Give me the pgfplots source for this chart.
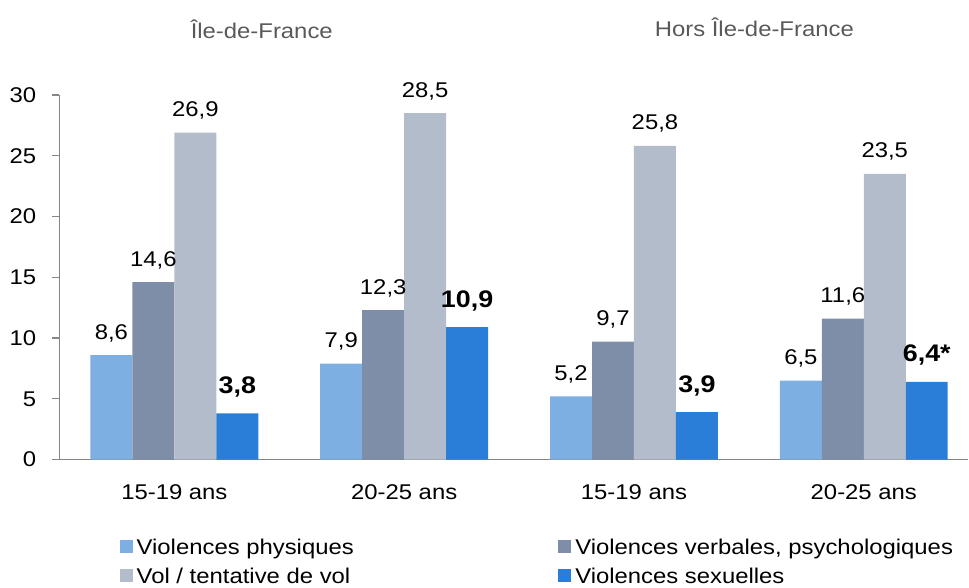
\documentclass[border=0pt]{standalone}
\usepackage{pgfplots}
\pgfplotsset{compat=1.18}
\usepackage{fontspec}
\setmainfont{Liberation Sans}[FakeStretch=1.12]
\definecolor{cPhys}{HTML}{7DAFE3}
\definecolor{cVerb}{HTML}{7F8EA8}
\definecolor{cVol}{HTML}{B3BCCB}
\definecolor{cSex}{HTML}{2B7ED8}
\definecolor{axisgray}{HTML}{868686}
\definecolor{titlegray}{HTML}{595959}
\begin{document}
\begin{tikzpicture}[font=\fontsize{16}{19}\selectfont]
\begin{scope}[x=0.75pt,y=0.75pt]
\path[use as bounding box] (0,0) rectangle (969,588);
\node[text=titlegray,anchor=base,inner sep=0pt] at (262,549) {Île-de-France};
\node[text=titlegray,anchor=base,inner sep=0pt] at (755,551) {Hors Île-de-France};
\end{scope}
\begin{axis}[
  at={(44.625pt,96pt)}, anchor=south west,
  scale only axis, width=682.125pt, height=273.75pt,
  xmin=-0.5, xmax=3.454, ymin=0, ymax=30,
  axis x line=bottom, axis y line=left,
  axis line style={-, axisgray, line width=1.3pt},
  xtick={0,1,2,3},
  xticklabels={15-19 ans,20-25 ans,15-19 ans,20-25 ans},
  x tick style={draw=none},
  ytick={0,5,10,15,20,25,30},
  y tick style={axisgray, line width=1pt},
  tick align=outside, major tick length=5.25pt,
  /pgf/number format/assume math mode=true,
  yticklabel style={anchor=east, inner sep=0pt, xshift=-12pt},
  xticklabel style={anchor=base, inner sep=0pt, yshift=-24.75pt},
  ybar, bar width=0.1826,
  point meta=explicit symbolic,
  nodes near coords,
  nodes near coords style={anchor=base, yshift=12pt, text=black, inner sep=0pt},
  legend columns=2,
  legend cell align=left,
  legend style={at={(0.066,-0.22)}, anchor=north west, draw=none, fill=none,
    inner sep=0pt, row sep=8.75pt,
    nodes={inner sep=0pt},
    /tikz/every odd column/.append style={column sep=3pt},
    /tikz/every even column/.append style={text height=11pt, text depth=3.5pt}},
  legend image code/.code={\fill[#1] (0pt,-3.4pt) rectangle (9.75pt,6.35pt);},
]
\addplot[fill=cPhys, draw=none, bar shift=-0.2739] coordinates {(0,8.6) [8,6] (1,7.9) [7,9] (2,5.2) [5,2] (3,6.5) [6,5]};
\addlegendentry{\makebox[316.5pt][l]{Violences physiques}}
\addplot[fill=cVerb, draw=none, bar shift=-0.0913] coordinates {(0,14.6) [14,6] (1,12.3) [12,3] (2,9.7) [9,7] (3,11.6) [11,6]};
\addlegendentry{Violences verbales, psychologiques}
\addplot[fill=cVol, draw=none, bar shift=0.0913] coordinates {(0,26.9) [26,9] (1,28.5) [28,5] (2,25.8) [25,8] (3,23.5) [23,5]};
\addlegendentry{\makebox[316.5pt][l]{Vol / tentative de vol}}
\addplot[fill=cSex, draw=none, bar shift=0.2739,
  nodes near coords style={font=\fontsize{18}{21}\selectfont\bfseries, yshift=3pt}]
  coordinates {(0,3.8) [3,8] (1,10.9) [10,9] (2,3.9) [3,9] (3,6.4) [6,4*]};
\addlegendentry{Violences sexuelles}
\end{axis}
\end{tikzpicture}
\end{document}
